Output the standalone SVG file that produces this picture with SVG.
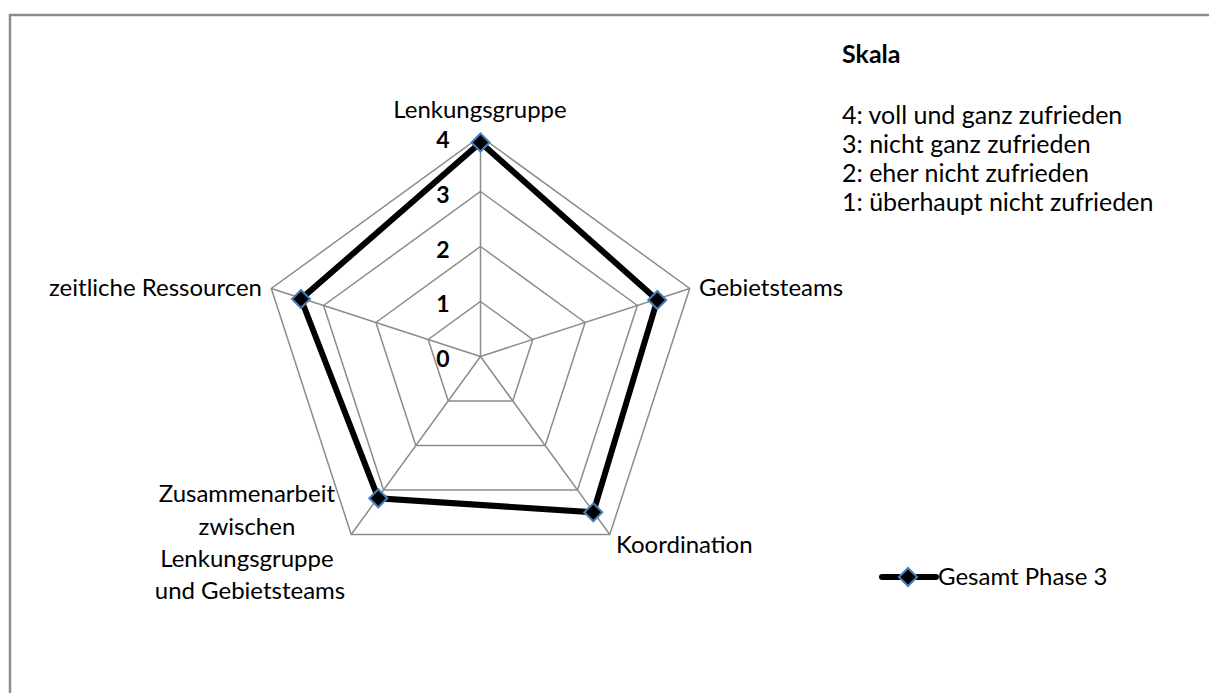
<svg xmlns="http://www.w3.org/2000/svg" width="1209" height="693" viewBox="0 0 1209 693">
  <style>
    .grid { fill: none; stroke: #8c8c8c; stroke-width: 1.5; }
    .lbl { font-family: Lato, "Open Sans", sans-serif; font-size: 24px; fill: #000; }
    .scale { font-family: Lato, "Open Sans", sans-serif; font-size: 25px; fill: #000; }
    .tick { font-family: Lato, "Open Sans", sans-serif; font-size: 23px; font-weight: bold; fill: #000; text-anchor: middle; }
    .series { fill: none; stroke: #000; stroke-width: 6; stroke-linejoin: miter; }
  </style>
  <defs>
    <path id="diamond" d="M0,-9 L9,0 L0,9 L-9,0 Z" fill="#000" stroke="#4a7ebb" stroke-width="2"/>
  </defs>

  <rect width="1209" height="693" fill="#fff"/>
  <!-- chart frame -->
  <path d="M10,693 V15 H1209" fill="none" stroke="#8c8c8c" stroke-width="2.5"/>

  <!-- radar grid -->
  <g id="grid">
    <polygon class="grid" points="480.5,136.5 689.7,288.5 609.8,534.5 351.2,534.5 271.3,288.5"/>
    <polygon class="grid" points="480.5,191.5 637.4,305.5 577.5,490.0 383.5,490.0 323.6,305.5"/>
    <polygon class="grid" points="480.5,246.5 585.1,322.5 545.2,445.5 415.8,445.5 375.9,322.5"/>
    <polygon class="grid" points="480.5,301.5 532.8,339.5 512.8,401.0 448.2,401.0 428.2,339.5"/>
    <path class="grid" d="M480.5,356.5 L480.5,136.5 M480.5,356.5 L689.7,288.5 M480.5,356.5 L609.8,534.5 M480.5,356.5 L351.2,534.5 M480.5,356.5 L271.3,288.5"/>
  </g>

  <!-- value axis labels -->
  <g id="axis-values">
    <text class="tick" x="443" y="148">4</text>
    <text class="tick" x="443" y="203">3</text>
    <text class="tick" x="443" y="258">2</text>
    <text class="tick" x="443" y="312">1</text>
    <text class="tick" x="443" y="367">0</text>
  </g>

  <!-- category labels -->
  <g id="cat-lenkungsgruppe"><text class="lbl" x="480" y="118" text-anchor="middle">Lenkungsgruppe</text></g>
  <g id="cat-gebietsteams"><text class="lbl" x="699" y="296">Gebietsteams</text></g>
  <g id="cat-koordination"><text class="lbl" x="616" y="553">Koordination</text></g>
  <g id="cat-zusammenarbeit">
    <text class="lbl" text-anchor="middle">
      <tspan x="250" y="502">Zusammenarbeit</tspan>
      <tspan x="250" y="535">zwischen</tspan>
      <tspan x="250" y="567">Lenkungsgruppe</tspan>
      <tspan x="250" y="599">und Gebietsteams</tspan>
    </text>
  </g>
  <g id="cat-ressourcen"><text class="lbl" x="262" y="296" text-anchor="end">zeitliche Ressourcen</text></g>

  <!-- data series -->
  <g id="connectors">
    <polygon class="series" points="480.5,142.5 657.3,300 593.3,512.3 378.3,498.3 301,299"/>
  </g>
  <g id="markers">
    <use href="#diamond" x="480.5" y="142.5"/>
    <use href="#diamond" x="657.3" y="300"/>
    <use href="#diamond" x="593.3" y="512.3"/>
    <use href="#diamond" x="378.3" y="498.3"/>
    <use href="#diamond" x="301" y="299"/>
  </g>

  <!-- scale legend -->
  <g id="scale">
    <text class="scale" x="842" y="63" font-size="26" font-weight="bold">Skala</text>
    <text class="scale" x="842" y="124">4: voll und ganz zufrieden</text>
    <text class="scale" x="842" y="153">3: nicht ganz zufrieden</text>
    <text class="scale" x="842" y="182">2: eher nicht zufrieden</text>
    <text class="scale" x="842" y="211">1: überhaupt nicht zufrieden</text>
  </g>

  <!-- series legend -->
  <g id="legend">
    <line x1="882" y1="577" x2="936" y2="577" stroke="#000" stroke-width="6" stroke-linecap="round"/>
    <use href="#diamond" x="908" y="577"/>
    <text class="lbl" x="938" y="585">Gesamt Phase 3</text>
  </g>
</svg>
